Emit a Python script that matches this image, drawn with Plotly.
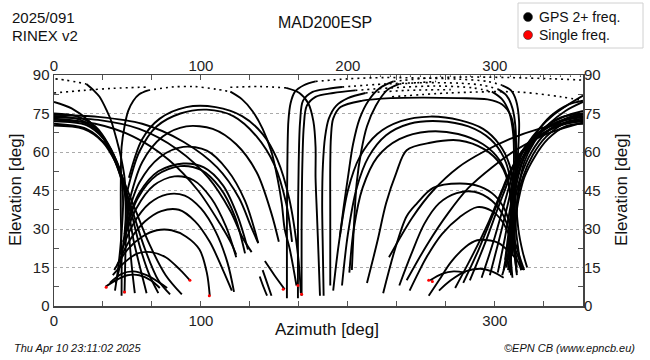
import plotly.graph_objects as go

# ---------------- data (azimuth [deg], elevation [deg]) ----------------
# left: descending from the north edge through the NE "waist"
D1 = [[0,79.5],[12,77],[24,72],[34,65],[41,57],[46,49],[47,40],[45.5,25],[43.5,14],[41.5,6]]
D2 = [[0,75],[15,74],[28,70],[37,63],[44,54],[48,45],[49,32],[48.5,18],[48,5]]
D3 = [[0,74],[18,72.5],[30,68],[39,60],[45,51],[49,42],[51,28],[53,15],[55,5]]
D4 = [[0,73],[20,71.5],[32,67],[41,58],[47,49],[50,40],[54,26],[59,14],[63,5]]
D5 = [[0,72],[22,70.5],[34,65],[43,56],[48,47],[52,38],[58,24],[65,12],[71,5]]
D6 = [[0,71],[22,69],[35,63],[44,54],[49,45],[54,36],[62,22],[71,10],[79,4.5]]
D7 = [[0,70.3],[20,69],[33,64],[42,56],[48,48],[55,38],[65,24],[76,12],[87,4.5]]
Z0_DOT = [[1,88.5],[8,88],[15,87.3],[22,86.5]]
Z0 = [[22,86.5],[27,84],[31,81.5],[36,76],[39,72],[43,64],[45,59.5],[48,50],[49,40],[48,28],[45,16],[42,9]]
# long passes north -> south-east
L1 = [[0,74.5],[30,73.7],[60,71],[88,64],[111,54],[126,42],[134,31],[139,24.5]]
L2 = [[0,73.5],[30,72.5],[58,69],[84,61],[105,50],[120,37],[128,27],[134.5,21]]
L3 = [[0,72.5],[28,71],[54,66],[78,57],[98,45],[113,32],[121,24],[124,20]]
# rising from NE waist to near zenith
Z1A = [[46,4],[46,20],[45.5,35],[45.5,50],[46,62],[48,70],[50.5,76],[54,80],[58,82.5],[64,84]]
Z1_DOT = [[64,84],[80,85.3],[95,85.5],[110,84.5],[120,83.5]]
Z1B = [[120,83.5],[128,80.5],[135,76],[142,69],[148,60],[152,50],[155,40],[157,30],[160.5,22],[165,8]]
DZ2_DOT = [[0,83],[20,84],[40,84.8],[64,85.3]]
# arcs rising in the NE and setting in the SE
B1 = [[35,7.5],[42,10],[50,12],[58,12],[66,10],[72,7]]
B2 = [[38,9],[46,12.5],[54,13.5],[63,12],[72,9],[77,7]]
B3 = [[40,12],[48,17],[57,20.5],[66,21],[76,19],[86,14],[92.5,10]]
B4 = [[41,14],[50,22],[60,27],[70,29.5],[80,29.5],[90,27],[99,22],[104,13],[106,4]]
B5 = [[43,16],[52,26],[62,33],[73,37],[85,37.5],[96,33],[106,25],[115,14],[121,6]]
B6 = [[45,20],[54,32],[65,40],[77,43.5],[89,43],[100,38],[110,29],[118,17],[122.5,5.5]]
B7 = [[47,25],[56,38],[68,47],[82,50.5],[95,49],[107,42],[117,31],[124,19]]
B8 = [[48,28],[57,42],[70,51],[86,54.5],[100,53],[113,46],[123,35],[130,20.5]]
B8B = [[48.5,30],[58,44],[71,52.5],[88,55.5],[102,54],[115,47],[125,35],[132,22]]
B9 = [[49,33],[58,48],[72,58],[88,62],[104,60.5],[118,53],[130,41],[139,24.5]]
B10 = [[50,38],[60,56],[74,66],[90,70],[108,69],[124,63],[138,52],[148,36],[153,25]]
B11 = [[50,45],[58,60],[70,70],[86,75],[104,76.5],[122,74],[138,66],[150,55],[158,40],[162,25]]
B12 = [[51,50],[60,65],[72,73],[90,77.5],[110,77.5],[128,74],[142,67],[152,57],[160,42],[166,20],[168,5]]
# short segments, south
S1 = [[140,11.5],[142.5,7.5],[145,4]]
S2 = [[142,14],[145,9],[148,4]]
S3 = [[143.5,17.5],[150,12],[157,6.5]]
# tall passes through the south
C1 = [[158.5,3],[158.5,30],[158.8,55],[159.5,72],[161,79],[164,83.5],[170,86],[178,87.5]]
C1_DOT = [[178,87.5],[200,88.5],[225,89],[250,88.8],[275,88.4],[295,87.5],[305,86]]
ZR1 = [[305,86],[311,84],[314.5,80],[316.5,72],[316,62],[315,53],[313,40],[312,30],[311,20],[311,12]]
C2 = [[166,3],[166,30],[166.5,55],[167.5,72],[169.5,80],[176,83.4],[186,84.6],[196,85.3]]
C2_DOT = [[196,85.3],[225,86.5],[250,87],[276,86.8],[292,86],[302,84.5]]
ZR2 = [[302,84.5],[308,82],[312,77],[314,70],[314.5,60],[314,50],[312.5,38],[311,25],[309,14]]
C3 = [[168.5,4],[168.5,30],[169,55],[170,70],[172,78],[178,81.5],[190,83],[205,84]]
C3_DOT = [[205,84],[230,85],[260,85.7],[285,85],[298,83.5]]
ZR3 = [[298,83.5],[305,80.5],[310,75],[312.5,67],[313,56],[312,44],[310,32],[307,18]]
C5 = [[188,8],[188,35],[188,55],[188.5,66],[190,73],[195,77.5],[210,80],[230,81],[250,81.2],[275,81],
      [295,80.5],[305,78.5],[311,74],[313.5,66],[314,55],[313,42],[311,30],[309,18]]
C6 = [[181,4],[180,20],[179,35],[178,50],[178,62],[176.5,72],[173,79],[167,83],[158,85]]
C6_DOT = [[158,85],[140,85.5],[120,85.2]]
C7 = [[183.5,4],[183,20],[182.5,40],[183,55],[184.5,66],[187,73],[192,78],[200,81],[212,83]]
C7_DOT = [[212,83],[240,84],[270,84.3]]
C8 = [[194.5,27],[197,38],[200,50],[203.5,63],[208,73],[214,80],[222,85],[231,87.5]]
C8_DOT = [[231,87.5],[255,88.8],[280,89.2],[310,89],[340,88.5],[360,88]]
C9 = [[202.7,14],[204,30],[206,48],[209,60],[213,70],[219,78],[226.5,84],[235,86.5]]
C9_DOT = [[235,86.5],[260,87.5]]
DZR_DOT = [[230,81.5],[269,83],[315,83.4],[345,81.5],[360,80]]
TOP_DOT = [[215,89.6],[360,89.6]]
# right: rising from the NW waist to the north edge
ZRR1 = [[312,20],[313,35],[314,48],[316,57],[322,63],[330,69],[340,74.5],[350,78.5],[360,82]]
ZRR2 = [[314,30],[316,45],[320,56],[327,64],[337,71],[348,76],[360,79.5]]
# right: from the north edge into the NW waist and down
RW1 = [[360,76],[348,74],[335,70],[325,64],[318,57],[314,50],[312,40],[311,28],[311,18],[312,11]]
RW2 = [[360,75],[345,73.5],[333,69],[324,62],[317,54],[313,45],[312,35],[313,24],[315,15]]
RW3 = [[360,73.5],[346,72],[334,67],[325,60],[318,51],[314,42],[314,32],[316,22],[318,14]]
RW4 = [[360,72.5],[347,71],[335,66],[326,59],[319,50],[315,40],[316,30],[319,21],[322,15]]
RW5 = [[360,71],[348,70],[336,65],[327,58],[320,50],[316,41],[313,30],[309,20],[305,12]]
RW6 = [[360,80],[350,78.5],[338,74],[328,67],[320,58],[315,48],[312,36],[309,24],[306,14]]
# right: long passes from the south-west up to the north edge
RD1 = [[273,7],[285,20],[296,33],[304,44],[310,52],[318,60],[330,66],[345,70.5],[360,72]]
RD2 = [[278.5,9],[289,22],[299,36],[306,46],[312,54],[322,62],[335,68],[350,71.5],[360,72.5]]
RD3 = [[283,10],[293,24],[302,38],[308,47],[313,55],[323,63],[338,69],[350,72],[360,73]]
RD4 = [[291,11],[299,25],[306,39],[311,49],[316,58],[327,66],[342,71.5],[360,74]]
RD5 = [[296.6,12],[303,26],[309,40],[313,50],[318,59],[330,67],[345,72],[360,74.5]]
RD6 = [[302,13],[307,27],[311,40],[314,50],[319,60],[332,68.5],[348,73],[360,75]]
RD7 = [[228,19],[244,34.6],[258,45],[275,54],[292,60],[310,65],[330,69],[350,71.5],[360,72.2]]
RD8 = [[240,10],[254,24],[268,36],[282,46],[298,54],[315,61],[335,67],[360,71.5]]
# right: arcs rising in the south/south-west and setting in the NW
RB1 = [[190,6],[194,25],[200,45],[208,58],[220,67],[236,72],[256,73.8],[276,72.4],[292,69],[303,63],
       [310,55],[313,45],[313.5,32],[314,18],[315,12]]
RB2 = [[196,8],[200,28],[206,46],[214,58],[226,66.5],[242,71],[262,72],[282,70],[297,65],[306,58],
       [311,48],[312,35],[311,22],[310,13]]
RB3 = [[201,13],[204,30],[210,46],[220,58],[235,65],[255,68],[275,67],[292,63],[303,57],[309,49],
       [311,38],[310,25],[308,15]]
RB4 = [[213,9],[220,25],[226,40],[233,52],[240,60.7],[256,63.6],[276,64.5],[293,61],[304,55],[310,46],
       [312,35],[313,22],[315,13]]
RB5 = [[224,5],[232,22],[240,35],[247,40],[258,46],[276,47.7],[290,46.5],[300,43],[307,37.3],[312,28],
       [317,19],[320,14]]
RB6 = [[242,6],[248,13],[253.5,19],[264,28],[276,34.6],[288,38.5],[298,37],[305,33],[311,26],[316,19],[319,14]]
RB7 = [[255,4],[262,10],[270,17],[280,23],[288,25.6],[297,25.5],[303,24.4],[310,21],[315,18],[318,14]]
RB8 = [[262,6],[270,10],[280,13.5],[290,14.5],[298,13.5],[306,11]]
RB9 = [[256,10],[264,12.5],[272,13.5],[280,13]]
RB10 = [[235,8],[243,20],[252,32],[262,40],[274,44],[286,44.5],[298,41],[306,35],[311,27],[315,18]]

RED_AZ = [35.5, 48, 92.5, 105.7, 156, 166, 168.5, 255, 257.5]
RED_EL = [7.3, 5.5, 10, 4, 6.5, 8, 4.6, 10, 9.5]

X_TICKS = [0, 100, 200, 300]
X_TEXT_TOP = ["0", "100", "200", "300"]
X_TEXT_BOTTOM = ["0", "100", "", "300"]
Y_TICKS = [0, 15, 30, 45, 60, 75, 90]
Y_MINOR = [7.5, 22.5, 37.5, 52.5, 67.5, 82.5]

SOLID = [D1, D2, D3, D4, D5, D6, D7, Z0, L1, L2, L3, Z1A, Z1B,
         B1, B2, B3, B4, B5, B6, B7, B8, B8B, B9, B10, B11, B12, S1, S2, S3,
         C1, ZR1, C2, ZR2, C3, ZR3, C5, C6, C7, C8, C9, ZRR1, ZRR2,
         RW1, RW2, RW3, RW4, RW5, RW6, RD1, RD2, RD3, RD4, RD5, RD6, RD7, RD8,
         RB1, RB2, RB3, RB4, RB5, RB6, RB7, RB8, RB9, RB10]
DOTTED = [Z0_DOT, Z1_DOT, DZ2_DOT, C1_DOT, C2_DOT, C3_DOT, C6_DOT, C7_DOT, C8_DOT, C9_DOT, DZR_DOT]

# ---------------- figure ----------------
FONT = "Liberation Sans, Arial, Helvetica, sans-serif"
fig = go.Figure()
for t in SOLID:
    fig.add_trace(go.Scatter(x=[p[0] for p in t], y=[p[1] for p in t], mode="lines",
                             line=dict(color="black", width=1.9, shape="spline", smoothing=0.9),
                             hoverinfo="skip", showlegend=False))
for t in DOTTED:
    fig.add_trace(go.Scatter(x=[p[0] for p in t], y=[p[1] for p in t], mode="lines",
                             line=dict(color="black", width=1.6, shape="spline", smoothing=0.9, dash="2px,4px"),
                             hoverinfo="skip", showlegend=False))
fig.add_trace(go.Scatter(x=[p[0] for p in TOP_DOT], y=[p[1] for p in TOP_DOT], mode="lines",
                         line=dict(color="black", width=1.2, dash="1px,9px"), hoverinfo="skip", showlegend=False))
fig.add_trace(go.Scatter(x=RED_AZ, y=RED_EL, mode="markers", marker=dict(color="red", size=3),
                         hoverinfo="skip", showlegend=False))
# dummy trace to activate the top/right axes
fig.add_trace(go.Scatter(x=[0], y=[0], xaxis="x2", yaxis="y2", mode="markers",
                         marker=dict(opacity=0), hoverinfo="skip", showlegend=False))

L, R, T, B = 54, 67, 75, 54
W, H = 650, 360
PW, PH = W - L - R, H - T - B


def px(x):
    return (x - L) / PW


def py(y):
    return (H - B - y) / PH


fig.update_layout(
    width=W, height=H, margin=dict(l=L, r=R, t=T, b=B, autoexpand=False),
    paper_bgcolor="white", plot_bgcolor="white",
    font=dict(family=FONT, size=15, color="#222"), showlegend=False,
    xaxis=dict(range=[0, 360], tickmode="array", tickvals=X_TICKS, ticktext=X_TEXT_BOTTOM,
               ticks="inside", ticklen=5,
               tickcolor="#555", showline=True, linecolor="#444", linewidth=1.5, mirror=True,
               showgrid=False, zeroline=False, tickfont=dict(size=15, color="#222"),
               minor=dict(tickmode="linear", tick0=0, dtick=100 / 3, ticks="inside", ticklen=5,
                          tickcolor="#555", showgrid=False)),
    xaxis2=dict(range=[0, 360], overlaying="x", side="top", tickmode="array", tickvals=X_TICKS,
                ticktext=X_TEXT_TOP,
                ticks="inside", ticklen=5, tickcolor="#555", showgrid=False, zeroline=False,
                showline=False, tickfont=dict(size=15, color="#222"),
                minor=dict(tickmode="linear", tick0=0, dtick=100 / 3, ticks="inside", ticklen=5,
                           tickcolor="#555", showgrid=False)),
    yaxis=dict(range=[0, 90], tickmode="array", tickvals=Y_TICKS, ticks="", showgrid=True,
               gridcolor="#aaaaaa", griddash="dot", gridwidth=1, showline=True, linecolor="#444",
               linewidth=1.5, mirror=True, zeroline=False, tickfont=dict(size=15, color="#222"),
               minor=dict(tickmode="array", tickvals=Y_MINOR, ticks="inside", ticklen=5,
                          tickcolor="#555", showgrid=False)),
    yaxis2=dict(range=[0, 90], overlaying="y", side="right", tickmode="array", tickvals=Y_TICKS,
                ticks="", showgrid=False, zeroline=False, showline=False,
                tickfont=dict(size=15, color="#222"),
                minor=dict(tickmode="array", tickvals=Y_MINOR, ticks="inside", ticklen=5,
                           tickcolor="#555", showgrid=False)),
)

ann = [
    dict(text="MAD200ESP", x=px(325), y=py(22), size=16, xanchor="center"),
    dict(text="2025/091", x=px(10), y=py(17), size=15, xanchor="left"),
    dict(text="RINEX v2", x=px(10), y=py(35), size=15, xanchor="left"),
    dict(text="GPS 2+ freq.", x=px(537), y=py(17), size=14, xanchor="left"),
    dict(text="Single freq.", x=px(537), y=py(35), size=14, xanchor="left"),
    dict(text="Azimuth [deg]", x=px(327), y=py(329), size=17, xanchor="center"),
    dict(text="<i>Thu Apr 10 23:11:02 2025</i>", x=px(12), y=py(348), size=11, xanchor="left"),
    dict(text="<i>©EPN CB (www.epncb.eu)</i>", x=px(637), y=py(348), size=11, xanchor="right"),
]
for a in ann:
    fig.add_annotation(text=a["text"], x=a["x"], y=a["y"], xref="paper", yref="paper",
                       xanchor=a["xanchor"], yanchor="middle", showarrow=False,
                       font=dict(family=FONT, size=a["size"], color="#111"))
for xc in (15, 621):
    fig.add_annotation(text="Elevation [deg]", x=px(xc), y=py(190), xref="paper", yref="paper",
                       xanchor="center", yanchor="middle", textangle=-90, showarrow=False,
                       font=dict(family=FONT, size=17, color="#111"))

# legend box and symbols
fig.add_shape(type="rect", xref="paper", yref="paper", x0=px(518), x1=px(643), y0=py(48), y1=py(3),
              line=dict(color="#d0d0d0", width=1), fillcolor="white", layer="below")
for yc, col in ((17, "black"), (35, "red")):
    fig.add_shape(type="circle", xref="paper", yref="paper", xsizemode="pixel", ysizemode="pixel",
                  xanchor=px(528), yanchor=py(yc), x0=-4.5, x1=4.5, y0=-4.5, y1=4.5,
                  fillcolor=col, line=dict(color="#333", width=0.6))

fig.write_html("out.html", config={"displayModeBar": False, "staticPlot": True},
               post_script="document.body.style.margin='0';document.body.style.overflow='hidden';")
